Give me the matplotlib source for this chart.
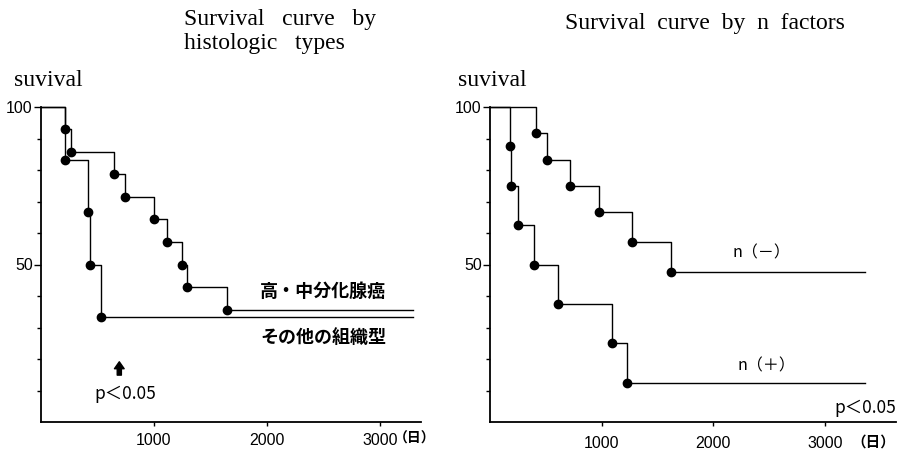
import matplotlib.pyplot as plt

# 高・中分化腺癌 / その他の組織型
t_hi = [215, 263, 649, 740, 1003, 1118, 1245, 1289, 1643]
s_hi = [92.9, 85.7, 78.6, 71.4, 64.3, 57.1, 50.0, 42.9, 35.7]
t_other = [215, 420, 430, 528]
s_other = [83.3, 66.7, 50.0, 33.3]
end_left = 3292

# n(-) / n(+)
t_nneg = [412, 507, 716, 976, 1268, 1623]
s_nneg = [91.7, 83.3, 75.0, 66.7, 57.0, 47.5]
t_npos = [182, 191, 253, 392, 612, 1095, 1224]
s_npos = [87.5, 75.0, 62.5, 50.0, 37.5, 25.0, 12.5]
end_right = 3357

W, H = 901, 454
serif = 'Liberation Serif'
jp = ['Noto Sans CJK JP', 'DejaVu Sans']
tick_font = 'Liberation Sans'

fig = plt.figure(figsize=(W / 100, H / 100), dpi=100)


def px(x, y):
    return x / W, 1 - y / H


def draw_curve(ax, t, s, end):
    xs = [0] + t + [end]
    ys = [100] + s + [s[-1]]
    ax.step(xs, ys, where='post', color='black', lw=1.0, clip_on=False)
    ax.plot(t, s, 'o', color='black', ms=6, clip_on=False)


def setup(ax, xmax, xpad):
    ax.set_xlim(0, xmax)
    ax.set_ylim(0, 100)
    for sp in ['top', 'right']:
        ax.spines[sp].set_visible(False)
    ax.spines['left'].set_linewidth(1.3)
    ax.spines['bottom'].set_linewidth(1.3)
    ax.set_yticks([50, 100])
    ax.set_yticks(range(10, 100, 10), minor=True)
    ax.set_yticklabels(['50', '100'])
    ax.tick_params(axis='y', which='major', length=5, width=1, pad=1)
    ax.tick_params(axis='y', which='minor', length=3, width=1)
    ax.set_xticks([1000, 2000, 3000])
    ax.set_xticklabels(['1000', '2000', '3000'])
    ax.tick_params(axis='x', length=3, width=1, pad=xpad)
    for lab in ax.get_xticklabels() + ax.get_yticklabels():
        lab.set_family(tick_font)
        lab.set_fontsize(11.5)


# left panel
ax1 = fig.add_axes([41 / W, 32 / H, 380 / W, 315 / H])
setup(ax1, 3363, 5)
draw_curve(ax1, t_hi, s_hi, end_left)
draw_curve(ax1, t_other, s_other, end_left)
ax1.text(2496, 41.4, '高・中分化腺癌', family=jp, fontsize=13, weight='bold',
         ha='center', va='center')
ax1.text(2496, 26.8, 'その他の組織型', family=jp, fontsize=13, weight='bold',
         ha='center', va='center')
ax1.annotate('', xy=(693, 20), xytext=(693, 14),
             arrowprops=dict(arrowstyle='simple,head_length=0.5,head_width=0.7,tail_width=0.3',
                             color='black'))
ax1.text(743, 8.9, 'p＜0.05', family=jp, fontsize=12.5, ha='center', va='center')

fig.text(*px(184, 9), 'Survival   curve   by\nhistologic   types', family=serif,
         fontsize=17, ha='left', va='top', linespacing=1.2)
fig.text(*px(14, 86), 'suvival', family=serif, fontsize=17, ha='left', va='baseline')
fig.text(*px(394, 439), '（日）', family=jp, fontsize=10, weight='bold',
         ha='left', va='center')

# right panel
ax2 = fig.add_axes([490 / W, 32 / H, 406 / W, 315 / H])
setup(ax2, 3635, 7)
draw_curve(ax2, t_nneg, s_nneg, end_right)
draw_curve(ax2, t_npos, s_npos, end_right)
ax2.text(2432, 53.7, 'n（－）', family=jp, fontsize=11.5, ha='center', va='center')
ax2.text(2471, 17.9, 'n（＋）', family=jp, fontsize=11.5, ha='center', va='center')
ax2.text(3635, 4.5, 'p＜0.05', family=jp, fontsize=12.5, ha='right', va='center')

fig.text(*px(565, 13), 'Survival  curve  by  n  factors', family=serif,
         fontsize=17, ha='left', va='top')
fig.text(*px(458, 86), 'suvival', family=serif, fontsize=17, ha='left', va='baseline')
fig.text(*px(851, 442), '（日）', family=jp, fontsize=10.5, weight='bold',
         ha='left', va='center')

fig.savefig('out.png', dpi=100)
